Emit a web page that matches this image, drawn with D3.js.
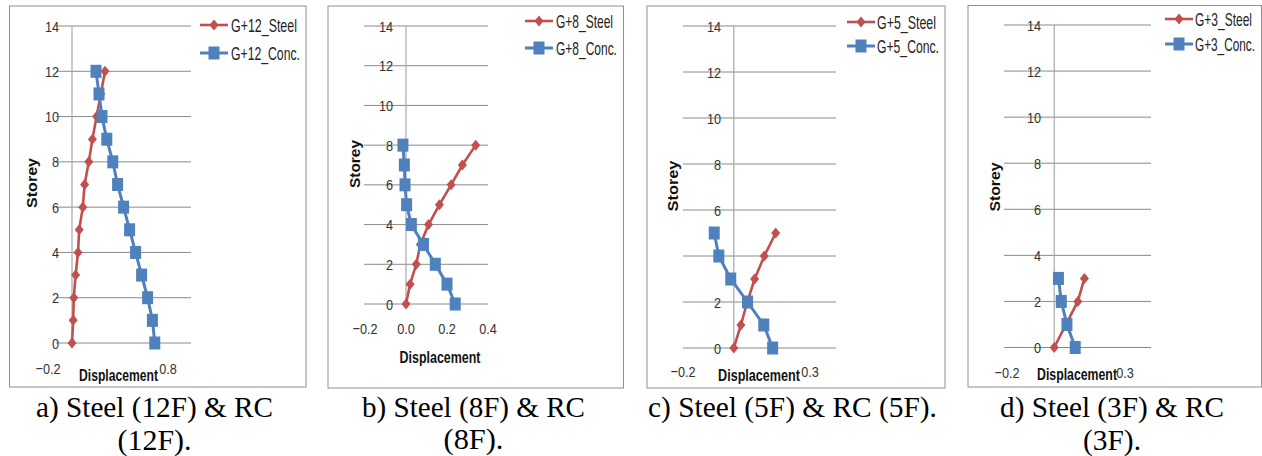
<!DOCTYPE html>
<html>
<head>
<meta charset="utf-8">
<script src="https://cdn.jsdelivr.net/npm/d3@7"></script>
<style>
  body { margin: 0; background: #fff; }
  svg { display: block; }
</style>
</head>
<body>
<svg id="chart" width="1262" height="456"></svg>
<script>
// Storey numbers and tick labels
var storeys12 = [0, 1, 2, 3, 4, 5, 6, 7, 8, 9, 10, 11, 12];
var storeys8 = [0, 1, 2, 3, 4, 5, 6, 7, 8];
var storeys5 = [0, 1, 2, 3, 4, 5];
var storeys3 = [0, 1, 2, 3];
var storeyTicks = [0, 2, 4, 6, 8, 10, 12, 14];

// Displacement values
var steel12 = [0.0, 0.01, 0.015, 0.03, 0.05, 0.06, 0.09, 0.105, 0.14, 0.17, 0.205, 0.24, 0.275];
var conc12 = [0.69, 0.67, 0.63, 0.58, 0.53, 0.48, 0.43, 0.38, 0.34, 0.29, 0.25, 0.225, 0.20];
var steel8 = [0.0, 0.02, 0.05, 0.07, 0.11, 0.163, 0.22, 0.275, 0.34];
var conc8 = [0.24, 0.20, 0.143, 0.085, 0.026, 0.003, -0.005, -0.008, -0.015];
var steel5 = [0.0, 0.028, 0.053, 0.082, 0.12, 0.165];
var conc5 = [0.153, 0.118, 0.054, -0.012, -0.059, -0.077];
var steel3 = [0.0, 0.05, 0.10, 0.128];
var conc3 = [0.089, 0.054, 0.03, 0.018];

var xTicks12 = [-0.2, 0.8];
var xTicks8 = [-0.2, 0.0, 0.2, 0.4];
var xTicks5 = [-0.2, 0.3];
var xTicks3 = [-0.2, 0.3];

var seriesNames12 = ["G+12_Steel", "G+12_Conc."];
var seriesNames8 = ["G+8_Steel", "G+8_Conc."];
var seriesNames5 = ["G+5_Steel", "G+5_Conc."];
var seriesNames3 = ["G+3_Steel", "G+3_Conc."];

var captions12 = ["a) Steel (12F) & RC", "(12F)."];
var captions8 = ["b) Steel (8F) & RC", "(8F)."];
var captions5 = ["c) Steel (5F) & RC (5F)."];
var captions3 = ["d) Steel (3F) & RC", "(3F)."];

var RED = "#C0504D", BLUE = "#4F81BD";
var SANS = "Liberation Sans";
var SERIF = "Liberation Serif";

var svg = d3.select("#chart");

// Layout for each panel (pixel positions only)
var panels = [
  {
    storeys: storeys12, steel: steel12, conc: conc12, xTicks: xTicks12, names: seriesNames12, caption: captions12,
    frame: [9.5, 6, 306, 387], xDomain: [-0.2, 0.8], xRange: [48, 168], yRange: [343, 26],
    grid: [56, 191], yLabelX: 59, xLabelY: 368,
    title: [118.5, 375, 79], storey: [32, 183, 50],
    legend: {x1: 200, x2: 228, y: [25, 53], tx: 231, tw: [66, 69]},
    captionX: 154.5, captionY: [417, 450], captionW: [237, 74]
  },
  {
    storeys: storeys8, steel: steel8, conc: conc8, xTicks: xTicks8, names: seriesNames8, caption: captions8,
    frame: [328, 6, 623.5, 388], xDomain: [-0.2, 0.4], xRange: [365, 488], yRange: [304, 26],
    grid: [364, 488], yLabelX: 393, xLabelY: 328,
    title: [440, 357, 81], storey: [355, 164, 48],
    legend: {x1: 525, x2: 553, y: [21, 48], tx: 556, tw: [57, 61]},
    captionX: 473.5, captionY: [417, 449], captionW: [223, 60]
  },
  {
    storeys: storeys5, steel: steel5, conc: conc5, xTicks: xTicks5, names: seriesNames5, caption: captions5,
    frame: [647, 6, 945, 388], xDomain: [-0.2, 0.3], xRange: [683, 810], yRange: [348, 26],
    grid: [683, 836], yLabelX: 721, xLabelY: 371,
    title: [759, 375, 82], storey: [673, 186, 51],
    legend: {x1: 847, x2: 875, y: [22, 46], tx: 877, tw: [59, 62]},
    captionX: 792.5, captionY: [417], captionW: [289]
  },
  {
    storeys: storeys3, steel: steel3, conc: conc3, xTicks: xTicks3, names: seriesNames3, caption: captions3,
    frame: [968, 5.5, 1261.5, 387], xDomain: [-0.2, 0.3], xRange: [1007, 1125], yRange: [347.5, 25],
    grid: [1004, 1151], yLabelX: 1041, xLabelY: 372,
    title: [1077, 374, 80], storey: [995, 187, 49],
    legend: {x1: 1165, x2: 1193, y: [19, 44], tx: 1195, tw: [57, 60]},
    captionX: 1112, captionY: [417, 450], captionW: [224, 58]
  }
];

var fmt = d3.format(".1f");

function diamondPath(w, h) {
  return "M0," + (-h / 2) + "L" + (w / 2) + ",0L0," + (h / 2) + "L" + (-w / 2) + ",0Z";
}

function drawMarker(g, kind, x, y) {
  if (kind === "steel") {
    g.append("path").attr("d", diamondPath(9, 11))
      .attr("transform", "translate(" + x + "," + y + ")")
      .attr("fill", RED);
  } else {
    g.append("rect").attr("x", x - 5.5).attr("y", y - 6.5)
      .attr("width", 11).attr("height", 13).attr("fill", BLUE);
  }
}

function addText(parent, str, family, size, anchor, fill, bold) {
  return parent.append("text")
    .attr("font-family", family)
    .attr("font-size", size)
    .attr("font-weight", bold ? "bold" : null)
    .attr("text-anchor", anchor)
    .attr("fill", fill)
    .text(str);
}

// The scanned charts have tall, narrow lettering: squeeze a text horizontally
// (by a factor k, or down to a target width) around its anchor point.
function placeText(t, x, y, opts) {
  var w = t.node().getComputedTextLength();
  var sx = opts.width ? opts.width / w : (opts.k || 1);
  var tr = "translate(" + x + "," + y + ")";
  if (opts.rotate) tr += " rotate(" + opts.rotate + ")";
  t.attr("x", 0).attr("y", 0).attr("transform", tr + " scale(" + sx + ",1)");
}

panels.forEach(function(p) {
  var g = svg.append("g");

  var x = d3.scaleLinear().domain(p.xDomain).range(p.xRange);
  var y = d3.scaleLinear().domain([0, 14]).range(p.yRange);

  // chart frame
  g.append("rect")
    .attr("x", p.frame[0]).attr("y", p.frame[1])
    .attr("width", p.frame[2] - p.frame[0]).attr("height", p.frame[3] - p.frame[1])
    .attr("fill", "none").attr("stroke", "#8f8f8f").attr("stroke-width", 1);

  // horizontal gridlines
  g.selectAll(".grid").data(storeyTicks).enter().append("line")
    .attr("x1", p.grid[0]).attr("x2", p.grid[1])
    .attr("y1", function(d) { return y(d); }).attr("y2", function(d) { return y(d); })
    .attr("stroke", "#8a8a8a").attr("stroke-width", 1);

  // vertical axis at x = 0
  g.append("line")
    .attr("x1", x(0)).attr("x2", x(0))
    .attr("y1", y(14)).attr("y2", y(0))
    .attr("stroke", "#a8a8a8").attr("stroke-width", 1.2);

  // y tick labels
  storeyTicks.forEach(function(d) {
    var t = addText(g, d, SANS, 15.5, "end", "#333");
    placeText(t, p.yLabelX, y(d) + 5.5, {k: 0.82});
  });

  // x tick labels
  p.xTicks.forEach(function(d) {
    var t = addText(g, fmt(d), SANS, 15.5, "middle", "#333");
    placeText(t, x(d), p.xLabelY + 5.5, {k: 0.82});
  });

  // axis titles
  var xt = addText(g, "Displacement", SANS, 16.5, "middle", "#111", true);
  placeText(xt, p.title[0], p.title[1] + 6, {width: p.title[2]});

  var yt = addText(g, "Storey", SANS, 14.5, "middle", "#111", true);
  placeText(yt, p.storey[0] + 5, p.storey[1], {width: p.storey[2], rotate: -90});

  // series lines
  var line = d3.line()
    .x(function(d) { return x(d[0]); })
    .y(function(d) { return y(d[1]); });

  var steelPts = p.storeys.map(function(s, i) { return [p.steel[i], s]; });
  var concPts = p.storeys.map(function(s, i) { return [p.conc[i], s]; });

  g.append("path").datum(steelPts).attr("d", line)
    .attr("fill", "none").attr("stroke", RED).attr("stroke-width", 2.6);
  steelPts.forEach(function(d) { drawMarker(g, "steel", x(d[0]), y(d[1])); });

  g.append("path").datum(concPts).attr("d", line)
    .attr("fill", "none").attr("stroke", BLUE).attr("stroke-width", 3);
  concPts.forEach(function(d) { drawMarker(g, "conc", x(d[0]), y(d[1])); });

  // legend
  ["steel", "conc"].forEach(function(kind, i) {
    var ly = p.legend.y[i];
    g.append("line")
      .attr("x1", p.legend.x1).attr("x2", p.legend.x2)
      .attr("y1", ly).attr("y2", ly)
      .attr("stroke", kind === "steel" ? RED : BLUE).attr("stroke-width", kind === "steel" ? 2.6 : 3);
    drawMarker(g, kind, (p.legend.x1 + p.legend.x2) / 2, ly);
    var t = addText(g, p.names[i], SANS, 18, "start", "#222");
    placeText(t, p.legend.tx, ly + 6.5, {width: p.legend.tw[i]});
  });

  // caption under the chart
  p.caption.forEach(function(c, i) {
    var t = addText(svg, c, SERIF, 29, "middle", "#000");
    placeText(t, p.captionX, p.captionY[i], {width: p.captionW[i]});
  });
});
</script>
</body>
</html>
